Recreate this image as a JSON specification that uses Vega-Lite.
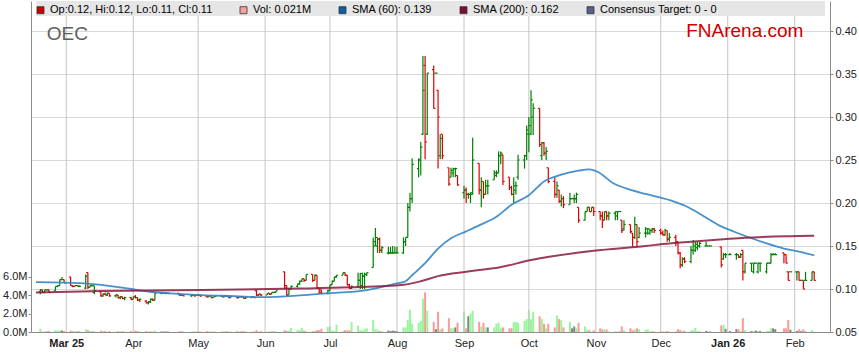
{
"$schema":"https://vega.github.io/schema/vega-lite/v6.json",
"width":799,"height":331,
"autosize":{"type":"none"},
"padding":{"left":31,"top":1,"right":29,"bottom":31},
"background":"white",
"datasets":{
"mo":[{"d":"2025-03-01"},{"d":"2025-04-01"},{"d":"2025-05-01"},{"d":"2025-06-01"},{"d":"2025-07-01"},{"d":"2025-08-01"},{"d":"2025-09-01"},{"d":"2025-10-01"},{"d":"2025-11-01"},{"d":"2025-12-01"},{"d":"2026-01-01"},{"d":"2026-02-01"}],
"px":[
{"d":"2025-02-17","o":0.097,"h":0.1,"l":0.094,"c":0.099,"v":0.35},
{"d":"2025-02-18","o":0.099,"h":0.099,"l":0.096,"c":0.096,"v":0.05},
{"d":"2025-02-19","o":0.096,"h":0.099,"l":0.096,"c":0.099,"v":0.05},
{"d":"2025-02-20","o":0.099,"h":0.099,"l":0.099,"c":0.099,"v":0.05},
{"d":"2025-02-21","o":0.099,"h":0.099,"l":0.096,"c":0.096,"v":0.1},
{"d":"2025-02-24","o":0.098,"h":0.103,"l":0.098,"c":0.103,"v":0.2},
{"d":"2025-02-25","o":0.103,"h":0.104,"l":0.102,"c":0.104,"v":0.15},
{"d":"2025-02-26","o":0.104,"h":0.111,"l":0.104,"c":0.111,"v":0.2},
{"d":"2025-02-27","o":0.111,"h":0.114,"l":0.111,"c":0.111,"v":0.15},
{"d":"2025-02-28","o":0.111,"h":0.111,"l":0.107,"c":0.107,"v":0.1},
{"d":"2025-03-03","o":0.114,"h":0.114,"l":0.104,"c":0.104,"v":0.15},
{"d":"2025-03-04","o":0.104,"h":0.104,"l":0.102,"c":0.103,"v":0.1},
{"d":"2025-03-05","o":0.103,"h":0.104,"l":0.103,"c":0.104,"v":0.05},
{"d":"2025-03-06","o":0.104,"h":0.104,"l":0.104,"c":0.104,"v":0.05},
{"d":"2025-03-07","o":0.103,"h":0.104,"l":0.102,"c":0.103,"v":0.05},
{"d":"2025-03-10","o":0.101,"h":0.117,"l":0.1,"c":0.115,"v":0.3},
{"d":"2025-03-11","o":0.119,"h":0.119,"l":0.1,"c":0.102,"v":0.2},
{"d":"2025-03-12","o":0.102,"h":0.104,"l":0.102,"c":0.104,"v":0.1},
{"d":"2025-03-13","o":0.104,"h":0.104,"l":0.103,"c":0.104,"v":0.05},
{"d":"2025-03-14","o":0.096,"h":0.104,"l":0.094,"c":0.098,"v":0.1},
{"d":"2025-03-17","o":0.097,"h":0.097,"l":0.091,"c":0.092,"v":0.15},
{"d":"2025-03-18","o":0.092,"h":0.095,"l":0.091,"c":0.094,"v":0.1},
{"d":"2025-03-19","o":0.094,"h":0.096,"l":0.093,"c":0.093,"v":0.1},
{"d":"2025-03-20","o":0.093,"h":0.096,"l":0.092,"c":0.095,"v":0.05},
{"d":"2025-03-21","o":0.095,"h":0.095,"l":0.091,"c":0.092,"v":0.1},
{"d":"2025-03-24","o":0.092,"h":0.094,"l":0.09,"c":0.093,"v":0.05},
{"d":"2025-03-25","o":0.093,"h":0.093,"l":0.089,"c":0.09,"v":0.1},
{"d":"2025-03-26","o":0.09,"h":0.092,"l":0.088,"c":0.091,"v":0.05},
{"d":"2025-03-27","o":0.091,"h":0.091,"l":0.088,"c":0.089,"v":0.1},
{"d":"2025-03-28","o":0.089,"h":0.091,"l":0.087,"c":0.09,"v":0.05},
{"d":"2025-03-31","o":0.09,"h":0.091,"l":0.087,"c":0.088,"v":0.1},
{"d":"2025-04-01","o":0.088,"h":0.091,"l":0.088,"c":0.091,"v":0.05},
{"d":"2025-04-02","o":0.091,"h":0.093,"l":0.089,"c":0.09,"v":0.15},
{"d":"2025-04-03","o":0.09,"h":0.09,"l":0.086,"c":0.087,"v":0.1},
{"d":"2025-04-04","o":0.087,"h":0.089,"l":0.085,"c":0.088,"v":0.05},
{"d":"2025-04-07","o":0.086,"h":0.087,"l":0.083,"c":0.084,"v":0.1},
{"d":"2025-04-08","o":0.084,"h":0.086,"l":0.082,"c":0.085,"v":0.05},
{"d":"2025-04-09","o":0.085,"h":0.089,"l":0.084,"c":0.088,"v":0.1},
{"d":"2025-04-10","o":0.088,"h":0.089,"l":0.086,"c":0.087,"v":0.05},
{"d":"2025-04-11","o":0.087,"h":0.095,"l":0.087,"c":0.095,"v":0.15},
{"d":"2025-04-14","o":0.095,"h":0.095,"l":0.094,"c":0.095,"v":0.05},
{"d":"2025-04-15","o":0.095,"h":0.095,"l":0.095,"c":0.095,"v":0.05},
{"d":"2025-04-16","o":0.095,"h":0.096,"l":0.094,"c":0.095,"v":0.05},
{"d":"2025-04-17","o":0.095,"h":0.095,"l":0.095,"c":0.095,"v":0.05},
{"d":"2025-04-22","o":0.095,"h":0.095,"l":0.093,"c":0.093,"v":0.05},
{"d":"2025-04-23","o":0.093,"h":0.094,"l":0.092,"c":0.093,"v":0.05},
{"d":"2025-04-24","o":0.093,"h":0.093,"l":0.092,"c":0.092,"v":0.05},
{"d":"2025-04-28","o":0.092,"h":0.093,"l":0.091,"c":0.093,"v":0.05},
{"d":"2025-04-29","o":0.093,"h":0.093,"l":0.092,"c":0.092,"v":0.05},
{"d":"2025-04-30","o":0.092,"h":0.093,"l":0.092,"c":0.093,"v":0.05},
{"d":"2025-05-01","o":0.093,"h":0.093,"l":0.092,"c":0.093,"v":0.05},
{"d":"2025-05-02","o":0.093,"h":0.093,"l":0.091,"c":0.092,"v":0.05},
{"d":"2025-05-05","o":0.092,"h":0.092,"l":0.09,"c":0.091,"v":0.1},
{"d":"2025-05-06","o":0.091,"h":0.092,"l":0.091,"c":0.092,"v":0.05},
{"d":"2025-05-07","o":0.092,"h":0.092,"l":0.09,"c":0.09,"v":0.05},
{"d":"2025-05-08","o":0.09,"h":0.091,"l":0.09,"c":0.091,"v":0.05},
{"d":"2025-05-09","o":0.091,"h":0.092,"l":0.091,"c":0.092,"v":0.05},
{"d":"2025-05-12","o":0.092,"h":0.092,"l":0.091,"c":0.091,"v":0.05},
{"d":"2025-05-13","o":0.091,"h":0.092,"l":0.09,"c":0.092,"v":0.05},
{"d":"2025-05-14","o":0.092,"h":0.092,"l":0.091,"c":0.092,"v":0.05},
{"d":"2025-05-15","o":0.092,"h":0.092,"l":0.09,"c":0.09,"v":0.05},
{"d":"2025-05-16","o":0.09,"h":0.091,"l":0.09,"c":0.091,"v":0.05},
{"d":"2025-05-19","o":0.091,"h":0.091,"l":0.089,"c":0.09,"v":0.1},
{"d":"2025-05-20","o":0.09,"h":0.091,"l":0.09,"c":0.091,"v":0.05},
{"d":"2025-05-21","o":0.091,"h":0.092,"l":0.09,"c":0.091,"v":0.05},
{"d":"2025-05-22","o":0.091,"h":0.091,"l":0.089,"c":0.089,"v":0.1},
{"d":"2025-05-23","o":0.089,"h":0.091,"l":0.089,"c":0.09,"v":0.05},
{"d":"2025-05-26","o":0.09,"h":0.091,"l":0.09,"c":0.091,"v":0.05},
{"d":"2025-05-27","o":0.091,"h":0.091,"l":0.09,"c":0.09,"v":0.05},
{"d":"2025-05-28","o":0.098,"h":0.099,"l":0.092,"c":0.093,"v":0.2},
{"d":"2025-05-29","o":0.093,"h":0.094,"l":0.092,"c":0.094,"v":0.05},
{"d":"2025-05-30","o":0.094,"h":0.094,"l":0.092,"c":0.093,"v":0.1},
{"d":"2025-06-02","o":0.093,"h":0.095,"l":0.093,"c":0.095,"v":0.05},
{"d":"2025-06-03","o":0.095,"h":0.095,"l":0.093,"c":0.094,"v":0.05},
{"d":"2025-06-04","o":0.094,"h":0.096,"l":0.094,"c":0.096,"v":0.1},
{"d":"2025-06-05","o":0.096,"h":0.096,"l":0.095,"c":0.096,"v":0.05},
{"d":"2025-06-06","o":0.096,"h":0.098,"l":0.096,"c":0.098,"v":0.05},
{"d":"2025-06-10","o":0.12,"h":0.12,"l":0.1,"c":0.101,"v":0.2},
{"d":"2025-06-11","o":0.104,"h":0.104,"l":0.092,"c":0.093,"v":0.1},
{"d":"2025-06-12","o":0.093,"h":0.101,"l":0.093,"c":0.1,"v":0.15},
{"d":"2025-06-13","o":0.1,"h":0.104,"l":0.099,"c":0.103,"v":0.45},
{"d":"2025-06-16","o":0.103,"h":0.106,"l":0.102,"c":0.106,"v":0.25},
{"d":"2025-06-17","o":0.106,"h":0.11,"l":0.105,"c":0.109,"v":0.2},
{"d":"2025-06-18","o":0.109,"h":0.112,"l":0.108,"c":0.112,"v":0.45},
{"d":"2025-06-19","o":0.112,"h":0.112,"l":0.108,"c":0.11,"v":0.15},
{"d":"2025-06-20","o":0.11,"h":0.117,"l":0.11,"c":0.117,"v":0.1},
{"d":"2025-06-23","o":0.117,"h":0.117,"l":0.108,"c":0.11,"v":0.1},
{"d":"2025-06-24","o":0.11,"h":0.117,"l":0.11,"c":0.116,"v":0.15},
{"d":"2025-06-25","o":0.116,"h":0.116,"l":0.1,"c":0.101,"v":0.2},
{"d":"2025-06-26","o":0.101,"h":0.101,"l":0.095,"c":0.096,"v":0.2},
{"d":"2025-06-27","o":0.099,"h":0.099,"l":0.095,"c":0.095,"v":0.35},
{"d":"2025-06-30","o":0.095,"h":0.099,"l":0.094,"c":0.098,"v":0.55},
{"d":"2025-07-01","o":0.098,"h":0.105,"l":0.098,"c":0.105,"v":0.6},
{"d":"2025-07-02","o":0.105,"h":0.11,"l":0.105,"c":0.109,"v":0.15},
{"d":"2025-07-03","o":0.109,"h":0.114,"l":0.109,"c":0.114,"v":0.1},
{"d":"2025-07-04","o":0.114,"h":0.116,"l":0.113,"c":0.116,"v":0.8},
{"d":"2025-07-07","o":0.116,"h":0.119,"l":0.116,"c":0.119,"v":0.1},
{"d":"2025-07-08","o":0.119,"h":0.119,"l":0.115,"c":0.116,"v":0.2},
{"d":"2025-07-09","o":0.116,"h":0.116,"l":0.104,"c":0.105,"v":0.15},
{"d":"2025-07-10","o":0.105,"h":0.106,"l":0.1,"c":0.101,"v":0.2},
{"d":"2025-07-11","o":0.101,"h":0.104,"l":0.1,"c":0.103,"v":1.1},
{"d":"2025-07-14","o":0.103,"h":0.119,"l":0.102,"c":0.11,"v":0.7},
{"d":"2025-07-15","o":0.11,"h":0.119,"l":0.1,"c":0.118,"v":0.2},
{"d":"2025-07-16","o":0.104,"h":0.119,"l":0.1,"c":0.115,"v":0.15},
{"d":"2025-07-17","o":0.115,"h":0.119,"l":0.1,"c":0.117,"v":0.35},
{"d":"2025-07-18","o":0.117,"h":0.119,"l":0.115,"c":0.119,"v":0.4},
{"d":"2025-07-21","o":0.125,"h":0.16,"l":0.125,"c":0.155,"v":1.3},
{"d":"2025-07-22","o":0.15,"h":0.171,"l":0.15,"c":0.16,"v":0.3},
{"d":"2025-07-23","o":0.15,"h":0.16,"l":0.142,"c":0.158,"v":0.25},
{"d":"2025-07-24","o":0.158,"h":0.16,"l":0.142,"c":0.145,"v":0.1},
{"d":"2025-07-25","o":0.145,"h":0.15,"l":0.142,"c":0.148,"v":0.1},
{"d":"2025-07-28","o":0.142,"h":0.149,"l":0.14,"c":0.142,"v":0.15},
{"d":"2025-07-29","o":0.142,"h":0.149,"l":0.141,"c":0.142,"v":0.1},
{"d":"2025-07-30","o":0.142,"h":0.15,"l":0.141,"c":0.142,"v":0.15},
{"d":"2025-07-31","o":0.142,"h":0.149,"l":0.142,"c":0.142,"v":0.1},
{"d":"2025-08-01","o":0.142,"h":0.149,"l":0.142,"c":0.142,"v":0.1},
{"d":"2025-08-04","o":0.142,"h":0.16,"l":0.141,"c":0.155,"v":0.5},
{"d":"2025-08-05","o":0.155,"h":0.16,"l":0.15,"c":0.16,"v":0.5},
{"d":"2025-08-06","o":0.16,"h":0.2,"l":0.16,"c":0.195,"v":1.3},
{"d":"2025-08-07","o":0.195,"h":0.212,"l":0.19,"c":0.205,"v":2.4},
{"d":"2025-08-08","o":0.205,"h":0.252,"l":0.2,"c":0.245,"v":0.9},
{"d":"2025-08-11","o":0.24,"h":0.252,"l":0.23,"c":0.25,"v":1.0},
{"d":"2025-08-12","o":0.25,"h":0.271,"l":0.232,"c":0.265,"v":1.2},
{"d":"2025-08-13","o":0.28,"h":0.371,"l":0.279,"c":0.331,"v":3.6},
{"d":"2025-08-14","o":0.36,"h":0.371,"l":0.251,"c":0.271,"v":4.3},
{"d":"2025-08-15","o":0.28,"h":0.351,"l":0.279,"c":0.351,"v":2.3},
{"d":"2025-08-18","o":0.355,"h":0.36,"l":0.31,"c":0.31,"v":1.1},
{"d":"2025-08-19","o":0.351,"h":0.351,"l":0.351,"c":0.351,"v":0.3},
{"d":"2025-08-20","o":0.331,"h":0.331,"l":0.24,"c":0.3,"v":2.2},
{"d":"2025-08-21","o":0.255,"h":0.28,"l":0.251,"c":0.275,"v":0.3},
{"d":"2025-08-22","o":0.28,"h":0.28,"l":0.251,"c":0.255,"v":0.4},
{"d":"2025-08-25","o":0.241,"h":0.241,"l":0.22,"c":0.222,"v":1.5},
{"d":"2025-08-26","o":0.23,"h":0.241,"l":0.23,"c":0.238,"v":0.4},
{"d":"2025-08-27","o":0.235,"h":0.241,"l":0.23,"c":0.24,"v":0.4},
{"d":"2025-08-28","o":0.24,"h":0.241,"l":0.23,"c":0.24,"v":0.5},
{"d":"2025-08-29","o":0.232,"h":0.232,"l":0.22,"c":0.221,"v":1.0},
{"d":"2025-09-01","o":0.212,"h":0.22,"l":0.205,"c":0.215,"v":2.2},
{"d":"2025-09-02","o":0.215,"h":0.218,"l":0.2,"c":0.21,"v":0.4},
{"d":"2025-09-03","o":0.21,"h":0.212,"l":0.205,"c":0.21,"v":1.7},
{"d":"2025-09-04","o":0.21,"h":0.212,"l":0.2,"c":0.212,"v":2.0},
{"d":"2025-09-05","o":0.21,"h":0.276,"l":0.21,"c":0.25,"v":2.3},
{"d":"2025-09-08","o":0.246,"h":0.246,"l":0.21,"c":0.215,"v":1.1},
{"d":"2025-09-09","o":0.215,"h":0.23,"l":0.195,"c":0.225,"v":0.6},
{"d":"2025-09-10","o":0.225,"h":0.225,"l":0.205,"c":0.21,"v":1.0},
{"d":"2025-09-11","o":0.21,"h":0.227,"l":0.21,"c":0.22,"v":0.5},
{"d":"2025-09-12","o":0.22,"h":0.227,"l":0.21,"c":0.22,"v":0.5},
{"d":"2025-09-15","o":0.227,"h":0.238,"l":0.227,"c":0.235,"v":0.5},
{"d":"2025-09-16","o":0.232,"h":0.238,"l":0.23,"c":0.235,"v":0.9},
{"d":"2025-09-17","o":0.235,"h":0.26,"l":0.235,"c":0.255,"v":1.0},
{"d":"2025-09-18","o":0.255,"h":0.26,"l":0.245,"c":0.258,"v":0.4},
{"d":"2025-09-19","o":0.256,"h":0.256,"l":0.221,"c":0.225,"v":0.5},
{"d":"2025-09-22","o":0.23,"h":0.23,"l":0.215,"c":0.218,"v":0.4},
{"d":"2025-09-23","o":0.218,"h":0.22,"l":0.209,"c":0.21,"v":0.4},
{"d":"2025-09-24","o":0.21,"h":0.23,"l":0.2,"c":0.22,"v":1.1},
{"d":"2025-09-25","o":0.215,"h":0.225,"l":0.21,"c":0.22,"v":1.1},
{"d":"2025-09-26","o":0.23,"h":0.256,"l":0.227,"c":0.25,"v":1.0},
{"d":"2025-09-29","o":0.25,"h":0.256,"l":0.24,"c":0.255,"v":1.2},
{"d":"2025-09-30","o":0.255,"h":0.29,"l":0.25,"c":0.285,"v":1.4},
{"d":"2025-10-01","o":0.28,"h":0.3,"l":0.259,"c":0.29,"v":2.4},
{"d":"2025-10-02","o":0.28,"h":0.331,"l":0.279,"c":0.32,"v":1.4},
{"d":"2025-10-03","o":0.3,"h":0.316,"l":0.279,"c":0.31,"v":2.2},
{"d":"2025-10-06","o":0.31,"h":0.31,"l":0.265,"c":0.268,"v":1.7},
{"d":"2025-10-07","o":0.255,"h":0.271,"l":0.25,"c":0.27,"v":1.4},
{"d":"2025-10-08","o":0.27,"h":0.271,"l":0.255,"c":0.258,"v":0.9},
{"d":"2025-10-09","o":0.258,"h":0.265,"l":0.25,"c":0.26,"v":0.4},
{"d":"2025-10-10","o":0.241,"h":0.241,"l":0.223,"c":0.225,"v":0.9},
{"d":"2025-10-13","o":0.225,"h":0.23,"l":0.206,"c":0.21,"v":0.5},
{"d":"2025-10-14","o":0.21,"h":0.225,"l":0.206,"c":0.22,"v":1.8},
{"d":"2025-10-15","o":0.215,"h":0.215,"l":0.2,"c":0.202,"v":1.4},
{"d":"2025-10-16","o":0.202,"h":0.21,"l":0.196,"c":0.205,"v":1.3},
{"d":"2025-10-17","o":0.205,"h":0.208,"l":0.194,"c":0.198,"v":0.5},
{"d":"2025-10-20","o":0.198,"h":0.212,"l":0.198,"c":0.205,"v":1.1},
{"d":"2025-10-21","o":0.205,"h":0.205,"l":0.205,"c":0.205,"v":0.4},
{"d":"2025-10-22","o":0.205,"h":0.21,"l":0.2,"c":0.205,"v":0.6},
{"d":"2025-10-23","o":0.205,"h":0.212,"l":0.2,"c":0.21,"v":0.4},
{"d":"2025-10-24","o":0.195,"h":0.195,"l":0.177,"c":0.18,"v":1.0},
{"d":"2025-10-27","o":0.18,"h":0.19,"l":0.18,"c":0.19,"v":0.6},
{"d":"2025-10-28","o":0.19,"h":0.195,"l":0.19,"c":0.195,"v":0.2},
{"d":"2025-10-29","o":0.195,"h":0.195,"l":0.19,"c":0.19,"v":0.2},
{"d":"2025-10-30","o":0.19,"h":0.195,"l":0.19,"c":0.195,"v":0.05},
{"d":"2025-10-31","o":0.195,"h":0.195,"l":0.185,"c":0.19,"v":0.2},
{"d":"2025-11-03","o":0.19,"h":0.19,"l":0.18,"c":0.185,"v":0.4},
{"d":"2025-11-04","o":0.185,"h":0.19,"l":0.171,"c":0.18,"v":0.3},
{"d":"2025-11-05","o":0.18,"h":0.19,"l":0.18,"c":0.19,"v":0.3},
{"d":"2025-11-06","o":0.19,"h":0.19,"l":0.18,"c":0.185,"v":0.25},
{"d":"2025-11-07","o":0.185,"h":0.19,"l":0.18,"c":0.188,"v":0.05},
{"d":"2025-11-10","o":0.188,"h":0.19,"l":0.18,"c":0.19,"v":0.1},
{"d":"2025-11-11","o":0.185,"h":0.19,"l":0.18,"c":0.19,"v":0.05},
{"d":"2025-11-12","o":0.19,"h":0.19,"l":0.19,"c":0.19,"v":0.05},
{"d":"2025-11-13","o":0.18,"h":0.18,"l":0.165,"c":0.168,"v":0.6},
{"d":"2025-11-14","o":0.17,"h":0.18,"l":0.168,"c":0.175,"v":0.2},
{"d":"2025-11-17","o":0.175,"h":0.175,"l":0.165,"c":0.167,"v":0.4},
{"d":"2025-11-18","o":0.165,"h":0.165,"l":0.149,"c":0.16,"v":0.2},
{"d":"2025-11-19","o":0.16,"h":0.184,"l":0.158,"c":0.175,"v":0.3},
{"d":"2025-11-20","o":0.175,"h":0.175,"l":0.149,"c":0.155,"v":0.4},
{"d":"2025-11-21","o":0.16,"h":0.172,"l":0.159,"c":0.165,"v":0.3},
{"d":"2025-11-24","o":0.165,"h":0.172,"l":0.16,"c":0.17,"v":0.25},
{"d":"2025-11-25","o":0.165,"h":0.171,"l":0.163,"c":0.17,"v":0.3},
{"d":"2025-11-26","o":0.165,"h":0.17,"l":0.163,"c":0.168,"v":0.05},
{"d":"2025-11-27","o":0.168,"h":0.171,"l":0.165,"c":0.17,"v":0.1},
{"d":"2025-11-28","o":0.17,"h":0.171,"l":0.165,"c":0.168,"v":0.05},
{"d":"2025-12-01","o":0.168,"h":0.17,"l":0.163,"c":0.165,"v":0.05},
{"d":"2025-12-02","o":0.165,"h":0.168,"l":0.162,"c":0.163,"v":0.05},
{"d":"2025-12-03","o":0.163,"h":0.17,"l":0.162,"c":0.168,"v":0.05},
{"d":"2025-12-04","o":0.168,"h":0.168,"l":0.155,"c":0.158,"v":0.1},
{"d":"2025-12-05","o":0.158,"h":0.165,"l":0.155,"c":0.16,"v":0.05},
{"d":"2025-12-08","o":0.16,"h":0.163,"l":0.15,"c":0.155,"v":0.05},
{"d":"2025-12-09","o":0.155,"h":0.155,"l":0.14,"c":0.142,"v":0.3},
{"d":"2025-12-10","o":0.142,"h":0.143,"l":0.124,"c":0.128,"v":0.2},
{"d":"2025-12-11","o":0.128,"h":0.137,"l":0.126,"c":0.135,"v":0.15},
{"d":"2025-12-12","o":0.135,"h":0.137,"l":0.13,"c":0.132,"v":0.15},
{"d":"2025-12-15","o":0.132,"h":0.15,"l":0.13,"c":0.145,"v":0.15},
{"d":"2025-12-16","o":0.145,"h":0.157,"l":0.14,"c":0.15,"v":0.2},
{"d":"2025-12-17","o":0.145,"h":0.155,"l":0.143,"c":0.152,"v":0.45},
{"d":"2025-12-18","o":0.148,"h":0.155,"l":0.145,"c":0.15,"v":0.1},
{"d":"2025-12-19","o":0.15,"h":0.155,"l":0.148,"c":0.153,"v":0.1},
{"d":"2025-12-22","o":0.15,"h":0.155,"l":0.15,"c":0.15,"v":0.1},
{"d":"2025-12-23","o":0.15,"h":0.15,"l":0.15,"c":0.15,"v":0.05},
{"d":"2025-12-24","o":0.15,"h":0.15,"l":0.15,"c":0.15,"v":0.05},
{"d":"2025-12-29","o":0.149,"h":0.149,"l":0.125,"c":0.128,"v":0.7},
{"d":"2025-12-30","o":0.135,"h":0.142,"l":0.134,"c":0.14,"v":0.8},
{"d":"2025-12-31","o":0.14,"h":0.142,"l":0.136,"c":0.14,"v":0.35},
{"d":"2026-01-02","o":0.14,"h":0.142,"l":0.14,"c":0.14,"v":0.1},
{"d":"2026-01-05","o":0.14,"h":0.142,"l":0.134,"c":0.14,"v":0.3},
{"d":"2026-01-06","o":0.14,"h":0.14,"l":0.136,"c":0.137,"v":0.3},
{"d":"2026-01-07","o":0.137,"h":0.142,"l":0.136,"c":0.14,"v":0.1},
{"d":"2026-01-08","o":0.145,"h":0.145,"l":0.11,"c":0.12,"v":1.5},
{"d":"2026-01-09","o":0.12,"h":0.13,"l":0.118,"c":0.13,"v":0.2},
{"d":"2026-01-12","o":0.13,"h":0.13,"l":0.12,"c":0.13,"v":0.1},
{"d":"2026-01-13","o":0.12,"h":0.13,"l":0.118,"c":0.13,"v":0.1},
{"d":"2026-01-14","o":0.13,"h":0.13,"l":0.13,"c":0.13,"v":0.15},
{"d":"2026-01-15","o":0.12,"h":0.13,"l":0.118,"c":0.13,"v":0.1},
{"d":"2026-01-16","o":0.13,"h":0.13,"l":0.12,"c":0.13,"v":0.1},
{"d":"2026-01-19","o":0.12,"h":0.13,"l":0.118,"c":0.13,"v":0.1},
{"d":"2026-01-20","o":0.13,"h":0.13,"l":0.13,"c":0.13,"v":0.05},
{"d":"2026-01-21","o":0.13,"h":0.142,"l":0.13,"c":0.14,"v":0.4},
{"d":"2026-01-22","o":0.14,"h":0.142,"l":0.14,"c":0.14,"v":0.4},
{"d":"2026-01-23","o":0.14,"h":0.142,"l":0.14,"c":0.14,"v":0.3},
{"d":"2026-01-27","o":0.142,"h":0.142,"l":0.13,"c":0.14,"v":0.4},
{"d":"2026-01-28","o":0.14,"h":0.14,"l":0.13,"c":0.13,"v":0.4},
{"d":"2026-01-29","o":0.12,"h":0.12,"l":0.11,"c":0.11,"v":1.3},
{"d":"2026-01-30","o":0.12,"h":0.12,"l":0.12,"c":0.12,"v":0.25},
{"d":"2026-02-02","o":0.12,"h":0.12,"l":0.11,"c":0.12,"v":0.1},
{"d":"2026-02-03","o":0.12,"h":0.12,"l":0.11,"c":0.11,"v":0.3},
{"d":"2026-02-04","o":0.11,"h":0.11,"l":0.11,"c":0.11,"v":0.1},
{"d":"2026-02-05","o":0.11,"h":0.11,"l":0.1,"c":0.1,"v":0.3},
{"d":"2026-02-06","o":0.11,"h":0.12,"l":0.11,"c":0.11,"v":0.05},
{"d":"2026-02-09","o":0.11,"h":0.12,"l":0.11,"c":0.12,"v":0.2},
{"d":"2026-02-10","o":0.12,"h":0.12,"l":0.11,"c":0.11,"v":0.021}
],
"s60":[
{"d":"2025-02-15","s":0.108},{"d":"2025-03-09","s":0.1066},{"d":"2025-03-18","s":0.1045},{"d":"2025-03-31","s":0.1},
{"d":"2025-04-10","s":0.0965},{"d":"2025-04-18","s":0.095},{"d":"2025-05-03","s":0.0928},{"d":"2025-05-18","s":0.0917},
{"d":"2025-05-30","s":0.0905},{"d":"2025-06-17","s":0.0925},{"d":"2025-06-29","s":0.0948},{"d":"2025-07-18","s":0.0988},
{"d":"2025-08-01","s":0.1065},{"d":"2025-08-05","s":0.109},{"d":"2025-08-08","s":0.116},{"d":"2025-08-14","s":0.13},
{"d":"2025-08-20","s":0.147},{"d":"2025-08-26","s":0.159},{"d":"2025-09-02","s":0.167},{"d":"2025-09-08","s":0.174},
{"d":"2025-09-16","s":0.184},{"d":"2025-09-23","s":0.198},{"d":"2025-10-01","s":0.209},{"d":"2025-10-08","s":0.225},
{"d":"2025-10-16","s":0.233},{"d":"2025-10-24","s":0.2376},{"d":"2025-10-29","s":0.239},{"d":"2025-11-02","s":0.236},
{"d":"2025-11-09","s":0.223},{"d":"2025-11-15","s":0.217},{"d":"2025-11-24","s":0.2105},{"d":"2025-12-05","s":0.2035},
{"d":"2025-12-13","s":0.196},{"d":"2025-12-20","s":0.186},{"d":"2025-12-28","s":0.174},{"d":"2026-01-04","s":0.1666},
{"d":"2026-01-12","s":0.159},{"d":"2026-01-19","s":0.153},{"d":"2026-01-27","s":0.147},{"d":"2026-02-04","s":0.143},
{"d":"2026-02-10","s":0.139}
],
"s200":[
{"d":"2025-02-15","s":0.096},{"d":"2025-03-18","s":0.0978},{"d":"2025-05-03","s":0.0987},{"d":"2025-06-17","s":0.1005},
{"d":"2025-07-10","s":0.102},{"d":"2025-08-04","s":0.105},{"d":"2025-08-12","s":0.109},{"d":"2025-08-20","s":0.115},
{"d":"2025-09-02","s":0.12},{"d":"2025-09-08","s":0.122},{"d":"2025-09-17","s":0.125},{"d":"2025-10-02","s":0.1337},
{"d":"2025-10-31","s":0.1445},{"d":"2025-11-24","s":0.15},{"d":"2025-12-02","s":0.1523},{"d":"2025-12-15","s":0.155},
{"d":"2025-12-30","s":0.1578},{"d":"2026-01-09","s":0.1596},{"d":"2026-02-03","s":0.1616},{"d":"2026-02-10","s":0.162}
],
"leg":[
{"k":"Op:0.12, Hi:0.12, Lo:0.11, Cl:0.11"},{"k":"Vol: 0.021M"},{"k":"SMA (60): 0.139"},{"k":"SMA (200): 0.162"},{"k":"Consensus Target: 0 - 0"}
]
},
"layer":[
{
"data":{"name":"px"},
"mark":{"type":"bar","width":2},
"encoding":{
"x":{"field":"d","type":"temporal","scale":{"type":"utc","domain":[{"year":2025,"month":2,"date":15,"utc":true},{"year":2026,"month":2,"date":15,"utc":true}]},"axis":{"title":null,"grid":false}},
"y":{"field":"v","type":"quantitative","scale":{"domain":[0,35.9],"nice":false,"zero":true},
"axis":{"orient":"left","title":null,"grid":false,"values":[0,2,4,6],"labelExpr":"format(datum.value,'.1f') + 'M'","tickSize":3,"labelPadding":1,"labelOverlap":false,"labelBound":false,"labelFlush":false}},
"color":{"condition":[{"test":"datum.c > datum.o","value":"#99f599"},{"test":"datum.c < datum.o","value":"#ff9999"}],"value":"#808080"}
}
},
{
"data":{"name":"mo"},
"mark":{"type":"rule","color":"#c4c4c4","strokeWidth":1},
"encoding":{
"x":{"field":"d","type":"temporal",
"axis":{"title":null,"grid":false,"tickSize":0,"labelPadding":5,"labelOverlap":false,"labelFlush":false,
"values":[1740787200000,1743465600000,1746057600000,1748736000000,1751328000000,1754006400000,1756684800000,1759276800000,1761955200000,1764547200000,1767225600000,1769904000000],
"labelExpr":"(utcmonth(datum.value)==0 || (utcmonth(datum.value)==2 && utcyear(datum.value)==2025)) ? utcFormat(datum.value,'%b %y') : utcFormat(datum.value,'%b')",
"labelFontWeight":{"condition":{"test":"utcmonth(datum.value)==0 || (utcmonth(datum.value)==2 && utcyear(datum.value)==2025)","value":"bold"},"value":"normal"}}}
}
},
{
"data":{"name":"px"},
"mark":{"type":"rule","strokeWidth":1.2},
"encoding":{
"x":{"field":"d","type":"temporal","axis":{"title":null,"grid":false}},
"y":{"field":"l","type":"quantitative","scale":{"domain":[0.05,0.4349],"nice":false,"zero":false},
"axis":{"orient":"right","title":null,"grid":true,"values":[0.05,0.1,0.15,0.2,0.25,0.3,0.35,0.4],"format":".2f","tickSize":3,"labelPadding":2,"labelOverlap":false}},
"y2":{"field":"h"},
"color":{"condition":{"test":"datum.c < datum.o","value":"#dd0000"},"value":"#008000"}
}
},
{
"data":{"name":"px"},
"mark":{"type":"rule","strokeWidth":1.2,"xOffset":-1.7},
"encoding":{
"x":{"field":"d","type":"temporal","axis":{"title":null,"grid":false}},
"x2":{"field":"d"},
"y":{"field":"o","type":"quantitative","scale":{"domain":[0.05,0.4349],"nice":false,"zero":false},"axis":null},
"color":{"condition":{"test":"datum.c < datum.o","value":"#dd0000"},"value":"#008000"}
}
},
{
"data":{"name":"px"},
"mark":{"type":"rule","strokeWidth":1.2,"x2Offset":1.7},
"encoding":{
"x":{"field":"d","type":"temporal","axis":{"title":null,"grid":false}},
"x2":{"field":"d"},
"y":{"field":"c","type":"quantitative","scale":{"domain":[0.05,0.4349],"nice":false,"zero":false},"axis":null},
"color":{"condition":{"test":"datum.c < datum.o","value":"#dd0000"},"value":"#008000"}
}
},
{
"data":{"name":"s60"},
"mark":{"type":"line","color":"#3585c4","strokeWidth":1.8,"opacity":0.9,"interpolate":"monotone"},
"encoding":{
"x":{"field":"d","type":"temporal","axis":{"title":null,"grid":false}},
"y":{"field":"s","type":"quantitative","scale":{"domain":[0.05,0.4349],"nice":false,"zero":false},"axis":null}
}
},
{
"data":{"name":"s200"},
"mark":{"type":"line","color":"#8a1a40","strokeWidth":2,"opacity":0.85,"interpolate":"monotone"},
"encoding":{
"x":{"field":"d","type":"temporal","axis":{"title":null,"grid":false}},
"y":{"field":"s","type":"quantitative","scale":{"domain":[0.05,0.4349],"nice":false,"zero":false},"axis":null}
}
},
{
"data":{"values":[{}]},
"mark":{"type":"rect","color":"#e6e6e6"},
"encoding":{
"x":{"datum":{"year":2025,"month":2,"date":15,"utc":true},"type":"temporal","axis":{"title":null,"grid":false}},
"x2":{"datum":{"year":2026,"month":2,"date":15,"utc":true}},
"y":{"datum":0.4349,"type":"quantitative","scale":{"domain":[0.05,0.4349],"nice":false,"zero":false},"axis":null},
"y2":{"datum":0.4174}
}
},
{
"data":{"values":[{}]},
"mark":{"type":"text","text":"OEC","align":"left","baseline":"alphabetic","fontSize":19,"color":"#5e5e5e"},
"encoding":{
"x":{"datum":{"year":2025,"month":2,"date":20,"utc":true},"type":"temporal","axis":{"title":null,"grid":false}},
"y":{"datum":0.3895,"type":"quantitative","scale":{"domain":[0.05,0.4349],"nice":false,"zero":false},"axis":null}
}
},
{
"data":{"values":[{}]},
"mark":{"type":"text","text":"FNArena.com","align":"right","baseline":"alphabetic","fontSize":19,"color":"#cc0000"},
"encoding":{
"x":{"datum":{"year":2026,"month":2,"date":5,"utc":true},"type":"temporal","axis":{"title":null,"grid":false}},
"y":{"datum":0.3934,"type":"quantitative","scale":{"domain":[0.05,0.4349],"nice":false,"zero":false},"axis":null}
}
},
{
"data":{"name":"leg"},
"mark":{"type":"point","shape":"square","filled":true,"opacity":0},
"encoding":{
"color":{"field":"k","type":"nominal",
"scale":{"domain":["Op:0.12, Hi:0.12, Lo:0.11, Cl:0.11","Vol: 0.021M","SMA (60): 0.139","SMA (200): 0.162","Consensus Target: 0 - 0"],"range":["#cc0000","#f7a0a0","#0a60a0","#7a1030","#5e5e8c"]},
"legend":{"orient":"none","legendX":4,"legendY":3.5,"direction":"horizontal","title":null,"symbolType":"square","symbolSize":49,"symbolOpacity":1,"symbolStrokeColor":"#333333","symbolStrokeWidth":0.8,"labelFontSize":11,"labelColor":"#000000","labelOffset":4,"columnPadding":25,"padding":0,"labelLimit":0}}
}
}
],
"resolve":{"scale":{"y":"independent"},"axis":{"y":"independent"}},
"config":{
"font":"Liberation Sans",
"view":{"stroke":null},
"axis":{"labelFont":"Liberation Sans","labelFontSize":11,"labelColor":"#222222","gridColor":"#d9d9d9","domainColor":"#8c8c8c","tickColor":"#8c8c8c"},
"legend":{"labelFont":"Liberation Sans"}
}
}
